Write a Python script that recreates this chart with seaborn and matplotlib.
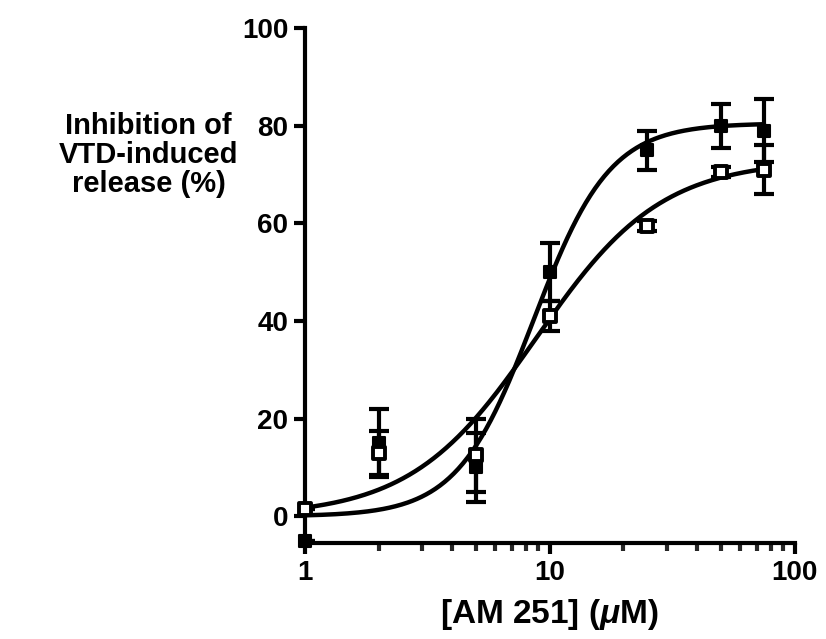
import numpy as np
import pandas as pd
import matplotlib
matplotlib.use("Agg")
import matplotlib.pyplot as plt
import seaborn as sns
from matplotlib.ticker import LogLocator, NullFormatter, FixedLocator

# ---- data ----
conc = [1, 2, 5, 10, 25, 50, 75]
filled_mean = [-5, 15, 10, 50, 75, 80, 79]
filled_err = [0, 7, 7, 6, 4, 4.5, 6.5]
open_mean = [1.5, 13, 12.5, 41, 59.5, 70.5, 71]
open_err = [0, 4.5, 7.5, 3, 1, 1, 5]

# Hill-fit parameters (bottom, top, EC50, slope)
filled_fit = [0, 80.5, 8.6, 2.8]
open_fit = [0, 73.0, 8.8, 1.7]

y_ticks = [0, 20, 40, 60, 80, 100]
x_ticks = [1, 10, 100]
x_ticklabels = ["1", "10", "100"]

sns.set_theme(style="ticks")
plt.rcParams['font.family'] = ['Liberation Sans', 'DejaVu Sans']
plt.rcParams['mathtext.fontset'] = 'custom'
plt.rcParams['mathtext.it'] = 'Liberation Sans:bold:italic'
plt.rcParams['mathtext.rm'] = 'Liberation Sans:bold'

fig = plt.figure(figsize=(8.26, 6.39), dpi=100)
ax = fig.add_axes([0.369, 0.150, 0.593, 0.806])

xs = np.logspace(0, np.log10(75), 300)
def hill(x, p):
    b, t, ec, h = p
    return b + (t - b) / (1 + (ec / x) ** h)

curves = pd.DataFrame({
    "x": np.concatenate([xs, xs]),
    "y": np.concatenate([hill(xs, filled_fit), hill(xs, open_fit)]),
    "s": ["filled"] * len(xs) + ["open"] * len(xs),
})
sns.lineplot(data=curves, x="x", y="y", units="s", estimator=None,
             color="black", lw=3.2, ax=ax, legend=False)

ax.errorbar(conc, filled_mean, yerr=filled_err, fmt="none", ecolor="black",
            elinewidth=3, capsize=7, capthick=3, zorder=3)
ax.errorbar(conc, open_mean, yerr=open_err, fmt="none", ecolor="black",
            elinewidth=3, capsize=7, capthick=3, zorder=3)

pts = pd.DataFrame({"x": conc, "y": filled_mean})
sns.scatterplot(data=pts, x="x", y="y", marker="s", s=85, color="black",
                edgecolor="black", linewidth=1.5, ax=ax, zorder=4, clip_on=False)
pts2 = pd.DataFrame({"x": conc, "y": open_mean})
sns.scatterplot(data=pts2, x="x", y="y", marker="s", s=85, facecolor="white",
                edgecolor="black", linewidth=2.8, ax=ax, zorder=5, clip_on=False)

ax.set_xscale("log")
ax.set_xlim(1, 100)
ax.set_ylim(-5.5, 100)
ax.set_yticks(y_ticks)
ax.set_yticklabels([str(v) for v in y_ticks])
ax.xaxis.set_major_locator(FixedLocator(x_ticks))
ax.set_xticklabels(x_ticklabels)
ax.xaxis.set_minor_locator(LogLocator(base=10, subs=np.arange(2, 10)))
ax.xaxis.set_minor_formatter(NullFormatter())

for s in ["top", "right"]:
    ax.spines[s].set_visible(False)
for s in ["left", "bottom"]:
    ax.spines[s].set_linewidth(3)
    ax.spines[s].set_color("black")
ax.spines["left"].set_bounds(-5.5, 100)

ax.tick_params(axis="both", which="major", direction="out", length=8, width=3,
               labelsize=20, colors="black", pad=4)
ax.tick_params(axis="x", which="minor", direction="out", length=6, width=3)
for lab in ax.get_xticklabels() + ax.get_yticklabels():
    lab.set_fontweight("bold")

ax.set_xlabel(r"[AM 251] ($\mathit{\mu}$M)", fontsize=24, fontweight="bold",
              labelpad=8, color="black")
ax.set_ylabel("")
fig.text(0.180, 0.757, "Inhibition of\nVTD-induced\nrelease (%)", ha="center",
         va="center", fontsize=21, fontweight="bold", linespacing=1.05,
         color="black")

fig.savefig("out.png", dpi=100)
